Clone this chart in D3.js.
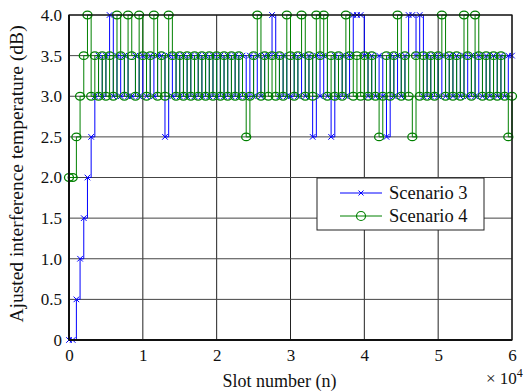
<!DOCTYPE html>
<html>
<head>
<meta charset="utf-8">
<script src="https://cdn.jsdelivr.net/npm/d3@7"></script>
<style>
  svg text { font-family: 'Liberation Serif', 'Times New Roman', Tinos, serif !important; }
</style>
</head>
<body style="margin:0">
<script>
// sample step in slots
var slotStep = 500;

var scenario3 = [0,0,0.5,1,1.5,2,2.5,3,3.5,3,3.5,4,3,3.5,3,3.5,3,3,3.5,3,
  3.5,3,3.5,3,3.5,3.5,2.5,3.5,3,3.5,3,3.5,3,3.5,3,3.5,3,3.5,3,3.5,
  3,3.5,3,3.5,3,3.5,3,3.5,3,3.5,3,3.5,3,3.5,3.5,4,3.5,3,3.5,3,
  3,3.5,3,3.5,3,3.5,2.5,3.5,3,3.5,3,2.5,3.5,3,3.5,3,3.5,4,4,4,
  3.5,3,3.5,3,3.5,3,2.5,3.5,3,3.5,3,3.5,4,4,3.5,4,3,3.5,3,3.5,
  3,3.5,3,3.5,3,3.5,3,3.5,3,3.5,3,3.5,3,3.5,3,3.5,3,3.5,3,3.5,3.5];

var scenario4 = [2,2,2.5,3,3.5,4,3,3.5,3,3.5,3,3.5,3,4,3.5,3,4,3.5,3,4,
  3.5,3,3.5,4,3,3.5,3,4,3.5,3,3.5,3,3.5,3,3.5,3,3.5,3,3.5,3,
  3.5,3,3.5,3,3.5,3,3.5,3,2.5,3,3.5,4,3,3.5,3,3.5,3,3.5,3,4,
  3.5,3,3.5,4,3,3.5,3,4,3.5,4,3,3.5,3,3.5,3,4,3.5,3,3.5,3,
  3.5,3,3.5,3,2.5,3,3.5,3,3.5,4,3,3.5,3,2.5,3.5,3,3.5,3,3.5,3,
  3.5,4,3,3.5,3,3.5,3,4,3.5,3,4,3.5,3,3.5,3,3.5,3,3.5,3,2.5,3];

var xTicks = [0,10000,20000,30000,40000,50000,60000];
var xTickLabels = ["0","1","2","3","4","5","6"];
var yTicks = [0,0.5,1,1.5,2,2.5,3,3.5,4];
var yTickLabels = ["0","0.5","1.0","1.5","2.0","2.5","3.0","3.5","4.0"];
var seriesNames = ["Scenario 3","Scenario 4"];

var width = 525, height = 392;
var margin = {top:15, left:69, bottom:52, right:13};
var w = width - margin.left - margin.right;
var h = height - margin.top - margin.bottom;

var svg = d3.select("body").append("svg").attr("width",width).attr("height",height);
var g = svg.append("g").attr("transform","translate("+margin.left+","+margin.top+")");

var xScale = d3.scaleLinear().domain([0,60000]).range([0,w]);
var yScale = d3.scaleLinear().domain([0,4]).range([h,0]);

function serifText(sel, size){
  return sel.attr("fill","#111").style("font-family","'Liberation Serif'").style("font-size",size+"px");
}

// grid
g.append("g").selectAll("line").data(xTicks).enter().append("line")
  .attr("x1",function(d){return xScale(d);}).attr("x2",function(d){return xScale(d);})
  .attr("y1",0).attr("y2",h)
  .attr("stroke","#222").attr("stroke-width",1);
g.append("g").selectAll("line").data(yTicks).enter().append("line")
  .attr("x1",0).attr("x2",w)
  .attr("y1",function(d){return yScale(d);}).attr("y2",function(d){return yScale(d);})
  .attr("stroke","#444").attr("stroke-width",1);

var line = d3.line()
  .x(function(d,i){return xScale(i*slotStep);})
  .y(function(d){return yScale(d);})
  .curve(d3.curveStepAfter);

// scenario 3
g.append("path").datum(scenario3).attr("d",line)
  .attr("fill","none").attr("stroke","#0000ff").attr("stroke-width",1);
var crossSize = 2.8;
g.append("g").selectAll("path").data(scenario3).enter().append("path")
  .attr("d",function(d,i){
    var x = xScale(i*slotStep), y = yScale(d), s = crossSize;
    return "M"+(x-s)+","+(y-s)+"L"+(x+s)+","+(y+s)+"M"+(x-s)+","+(y+s)+"L"+(x+s)+","+(y-s);
  })
  .attr("stroke","#0000ff").attr("stroke-width",1);

// scenario 4
g.append("path").datum(scenario4).attr("d",line)
  .attr("fill","none").attr("stroke","#008000").attr("stroke-width",1);
g.append("g").selectAll("ellipse").data(scenario4).enter().append("ellipse")
  .attr("cx",function(d,i){return xScale(i*slotStep);})
  .attr("cy",function(d){return yScale(d);})
  .attr("rx",4.5).attr("ry",3.8)
  .attr("fill","none").attr("stroke","#008000").attr("stroke-width",1.3);

// box
g.append("rect").attr("x",0).attr("y",0).attr("width",w).attr("height",h)
  .attr("fill","none").attr("stroke","#111").attr("stroke-width",1.2);
g.append("line").attr("x1",0).attr("x2",w).attr("y1",h).attr("y2",h)
  .attr("stroke","#111").attr("stroke-width",2);
g.append("line").attr("x1",0).attr("x2",0).attr("y1",0).attr("y2",h)
  .attr("stroke","#111").attr("stroke-width",2);

// tick labels
var xAxis = d3.axisBottom(xScale).tickValues(xTicks)
  .tickFormat(function(d,i){return xTickLabels[i];}).tickSize(0).tickPadding(9);
var xg = g.append("g").attr("transform","translate(0,"+h+")").call(xAxis);
xg.attr("font-family",null);
xg.select(".domain").remove();
serifText(xg.selectAll("text"),17);

var yAxis = d3.axisLeft(yScale).tickValues(yTicks)
  .tickFormat(function(d,i){return yTickLabels[i];}).tickSize(0).tickPadding(7);
var yg = g.append("g").call(yAxis);
yg.attr("font-family",null);
yg.select(".domain").remove();
serifText(yg.selectAll("text"),17);

// exponent
var ex = serifText(svg.append("text").attr("x",486).attr("y",384),17);
ex.append("tspan").text("\u00d7 10");
ex.append("tspan").attr("dy",-7).style("font-size","12px").text("4");

// axis titles
serifText(svg.append("text"),18).attr("x",margin.left + w/2 - 11).attr("y",387)
  .attr("text-anchor","middle").text("Slot number (n)");
serifText(svg.append("text"),19.5)
  .attr("transform","translate(23,174) rotate(-90)")
  .attr("text-anchor","middle")
  .text("Ajusted interference temperature (dB)");

// legend
var lg = svg.append("g").attr("transform","translate(317,178)");
lg.append("rect").attr("width",167).attr("height",52)
  .attr("fill","#fff").attr("stroke","#222").attr("stroke-width",1);
var rowY = [15,38];
var colors = ["#0000ff","#008000"];
seriesNames.forEach(function(name,i){
  lg.append("line").attr("x1",23).attr("x2",65).attr("y1",rowY[i]).attr("y2",rowY[i])
    .attr("stroke",colors[i]).attr("stroke-width",1);
  if(i==0){
    var s = 2.5, cx = 44, cy = rowY[i];
    lg.append("path").attr("d","M"+(cx-s)+","+(cy-s)+"L"+(cx+s)+","+(cy+s)+"M"+(cx-s)+","+(cy+s)+"L"+(cx+s)+","+(cy-s))
      .attr("stroke",colors[i]).attr("stroke-width",1);
  } else {
    lg.append("circle").attr("cx",44).attr("cy",rowY[i]).attr("r",4.5)
      .attr("fill","none").attr("stroke",colors[i]).attr("stroke-width",1.2);
  }
  serifText(lg.append("text"),18.5).attr("x",72).attr("y",rowY[i]+6).text(name);
});
</script>
</body>
</html>
